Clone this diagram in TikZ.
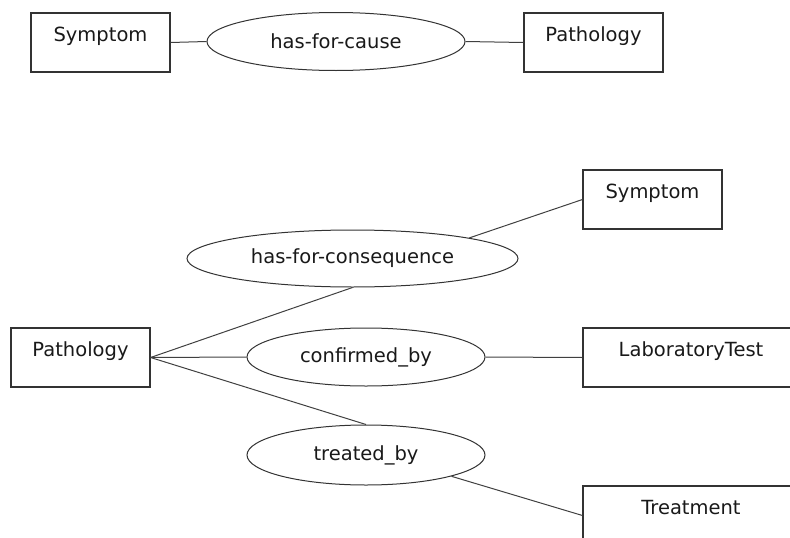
\documentclass[tikz,border=0pt]{standalone}
\usepackage{fontspec}
\setmainfont{DejaVu Sans}
\usetikzlibrary{shapes.geometric}
\begin{document}
\begin{tikzpicture}[x=1pt,y=-1pt,
  every node/.style={font=\fontsize{19.5}{22}\selectfont, text=black!90},
  entity/.style={draw=black!80, line width=1.1pt, rectangle, inner xsep=0pt, inner ysep=14pt,
    text height=14.4pt, text depth=16.6pt, minimum width=139pt},
  rel/.style={draw=black!80, line width=1pt, ellipse, inner sep=0pt},
  link/.style={draw=black!75, line width=1pt}]
\useasboundingbox (0,0) rectangle (790,538);
\clip (0,0) rectangle (790,538);
% top row
\node[entity] (sym1) at (100.5,42.5) {Symptom};
\node[rel, minimum width=258pt, minimum height=58pt] (cause) at (336,41.5) {has-for-cause};
\node[entity] (path1) at (593.5,42.5) {Pathology};
\draw[link] (sym1.east) -- (cause.west);
\draw[link] (cause.east) -- (path1.west);
% bottom part
\node[entity] (path2) at (80.5,357.5) {Pathology};
\node[entity] (sym2) at (652.5,199.5) {Symptom};
\node[entity, minimum width=236pt] (lab) at (701,357.5) {\makebox[216pt]{\hspace*{-20pt}LaboratoryTest}};
\node[entity, minimum width=236pt] (treat) at (701,515.5) {\makebox[216pt]{\hspace*{-20pt}Treatment}};
\node[rel, minimum width=331pt, minimum height=57pt] (cons) at (352.5,258.5) {has-for-consequence};
\node[rel, minimum width=238pt, minimum height=58pt] (conf) at (366,357) {confirmed\_by};
\node[rel, minimum width=238pt, minimum height=60pt] (treated) at (366,455) {treated\_by};
\draw[link] (path2.east) -- (cons.south);
\draw[link] (cons.10) -- (sym2.west);
\draw[link] (path2.east) -- (conf.west);
\draw[link] (conf.east) -- (lab.west);
\draw[link] (path2.east) -- (treated.north);
\draw[link] (treated.-14) -- (treat.west);
\end{tikzpicture}
\end{document}
